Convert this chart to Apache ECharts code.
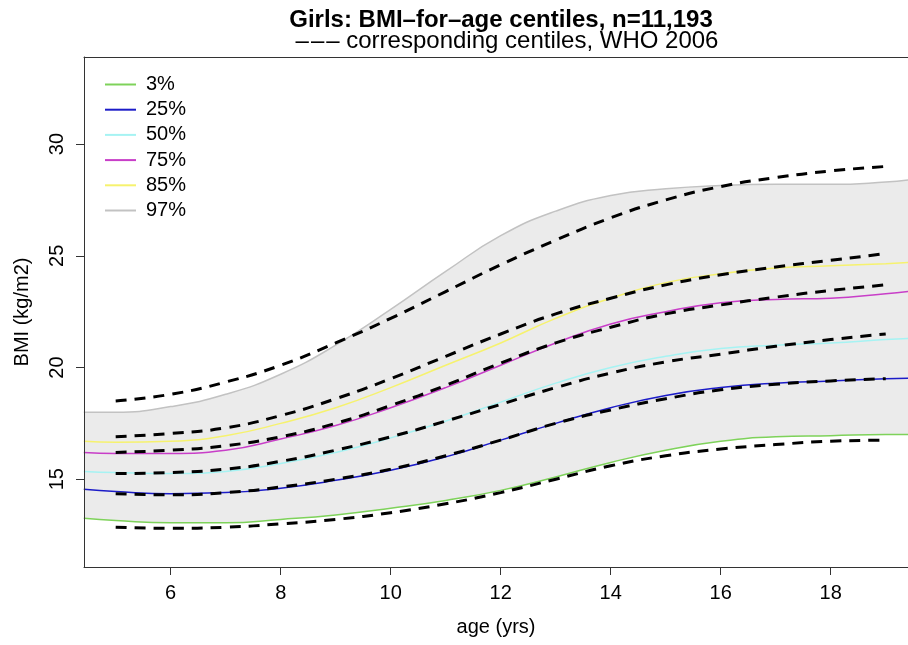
<!DOCTYPE html>
<html>
<head>
<meta charset="utf-8">
<script src="https://cdn.jsdelivr.net/npm/echarts@6/dist/echarts.min.js"></script>
<style>
html,body{margin:0;padding:0;background:#fff;}
#chart{width:908px;height:645px;}
</style>
</head>
<body>
<div id="chart"></div>
<script>
// ---- data ----
var ageStudy = [4.42, 5, 6, 7, 8, 9, 10, 11, 12, 13, 14, 15, 16, 17, 18, 19, 19.41];
var study3  = [13.25, 13.15, 13.05, 13.05, 13.2, 13.4, 13.7, 14.05, 14.5, 15.1, 15.75, 16.3, 16.7, 16.9, 16.95, 17.0, 17.0];
var study25 = [14.55, 14.45, 14.35, 14.4, 14.6, 14.95, 15.4, 16.0, 16.75, 17.5, 18.2, 18.75, 19.1, 19.3, 19.4, 19.5, 19.52];
var study50 = [15.35, 15.3, 15.25, 15.35, 15.7, 16.2, 16.85, 17.6, 18.45, 19.3, 20.0, 20.5, 20.85, 21.0, 21.1, 21.25, 21.3];
var study75 = [16.2, 16.15, 16.15, 16.3, 16.8, 17.4, 18.2, 19.1, 20.1, 21.1, 21.95, 22.5, 22.9, 23.05, 23.1, 23.3, 23.4];
var study85 = [16.7, 16.65, 16.7, 16.95, 17.5, 18.2, 19.1, 20.1, 21.1, 22.2, 23.1, 23.8, 24.2, 24.45, 24.55, 24.65, 24.7];
var study97 = [18.0, 18.0, 18.25, 18.8, 19.7, 21.0, 22.6, 24.3, 25.9, 27.0, 27.7, 28.0, 28.15, 28.2, 28.2, 28.3, 28.4];

var ageWHO = [5, 6, 7, 8, 9, 10, 11, 12, 13, 14, 15, 16, 17, 18, 19];
var who3  = [12.85, 12.8, 12.85, 13.0, 13.2, 13.5, 13.9, 14.4, 15.0, 15.6, 16.05, 16.35, 16.55, 16.7, 16.75];
var who25 = [14.35, 14.3, 14.4, 14.65, 15.0, 15.45, 16.05, 16.75, 17.5, 18.1, 18.6, 19.0, 19.25, 19.4, 19.5];
var who50 = [15.25, 15.3, 15.45, 15.8, 16.3, 16.9, 17.6, 18.35, 19.1, 19.75, 20.25, 20.6, 20.95, 21.25, 21.5];
var who75 = [16.2, 16.3, 16.5, 16.9, 17.5, 18.3, 19.2, 20.2, 21.1, 21.8, 22.4, 22.8, 23.15, 23.45, 23.7];
var who85 = [16.9, 17.05, 17.3, 17.85, 18.6, 19.5, 20.5, 21.5, 22.4, 23.1, 23.7, 24.15, 24.5, 24.8, 25.1];
var who97 = [18.5, 18.8, 19.35, 20.1, 21.1, 22.2, 23.4, 24.6, 25.7, 26.7, 27.5, 28.1, 28.5, 28.8, 29.0];

var centileNames = ['3%', '25%', '50%', '75%', '85%', '97%'];
var xTicks = [6, 8, 10, 12, 14, 16, 18];
var yTicks = [15, 20, 25, 30];

// ---- build ----
var studySets = [study3, study25, study50, study75, study85, study97];
var whoSets = [who3, who25, who50, who75, who85, who97];
var colors = ['#7ed25a', '#1c1cc8', '#a6f3f3', '#c83ec8', '#f6f26e', '#c2c2c2'];

function pairs(xs, ys) { return xs.map(function (x, i) { return [x, ys[i]]; }); }

var FONT = '"Liberation Sans", Arial, Helvetica, sans-serif';
var SM = 0.5;
var series = [];
// point-cloud impression: shaded band between the 3% and 97% study centiles
series.push({
  type: 'line', name: 'band97', data: pairs(ageStudy, study97), smooth: SM,
  symbol: 'none', lineStyle: { width: 0 }, areaStyle: { color: '#ebebeb', opacity: 1, origin: 'start' },
  z: 1, silent: true
});
series.push({
  type: 'line', name: 'band3', data: pairs(ageStudy, study3), smooth: SM,
  symbol: 'none', lineStyle: { width: 0 }, areaStyle: { color: '#ffffff', opacity: 1, origin: 'start' },
  z: 1.5, silent: true
});
studySets.forEach(function (arr, i) {
  series.push({
    type: 'line', name: centileNames[i], data: pairs(ageStudy, arr), smooth: SM,
    symbol: 'none', lineStyle: { color: colors[i], width: 1.5 }, itemStyle: { color: colors[i] }, z: 3
  });
});
whoSets.forEach(function (arr, i) {
  series.push({
    type: 'line', name: 'WHO ' + centileNames[i], data: pairs(ageWHO, arr), smooth: SM,
    symbol: 'none', lineStyle: { color: '#000', width: 3, type: [11, 8] }, z: 4
  });
});

var chart = echarts.init(document.getElementById('chart'), null, { renderer: 'canvas' });
chart.setOption({
  animation: false,
  backgroundColor: '#fff',
  textStyle: { fontFamily: FONT },
  title: [
    { text: 'Girls: BMI–for–age centiles, n=11,193', left: 496, top: 3, textAlign: 'center',
      textStyle: { fontFamily: FONT, fontSize: 24, fontWeight: 'bold', color: '#000' } },
    { text: '\u2013\u200A\u2013\u200A\u2013 corresponding centiles, WHO 2006', left: 502, top: 24, textAlign: 'center',
      textStyle: { fontFamily: FONT, fontSize: 24, fontWeight: 'normal', color: '#000' } }
  ],
  legend: {
    data: centileNames.map(function (n, i) { return { name: n, icon: 'rect', itemStyle: { color: colors[i] } }; }),
    orient: 'vertical', left: 100, top: 69.5, itemWidth: 31, itemHeight: 2, itemGap: 5.2,
    textStyle: { fontFamily: FONT, fontSize: 20, color: '#000', lineHeight: 20, padding: [0, 0, 0, 5] },
    selectedMode: false
  },
  grid: { left: 84, top: 57, right: 0, bottom: 78, containLabel: false },
  xAxis: [
    { type: 'value', min: 4.424, max: 19.405, position: 'bottom', z: 10,
      axisLine: { show: true, onZero: false, lineStyle: { color: '#333', width: 1 } },
      axisTick: { show: true, customValues: xTicks, length: 8, lineStyle: { color: '#333' } },
      axisLabel: { customValues: xTicks, margin: 16, fontSize: 20, color: '#000', fontFamily: FONT },
      splitLine: { show: false },
      name: 'age (yrs)', nameLocation: 'middle', nameGap: 50,
      nameTextStyle: { fontSize: 20, color: '#000', fontFamily: FONT } },
    { type: 'value', min: 4.424, max: 19.405, position: 'top', z: 10,
      axisLine: { show: true, onZero: false, lineStyle: { color: '#333', width: 1 } },
      axisTick: { show: false }, axisLabel: { show: false }, splitLine: { show: false } }
  ],
  yAxis: [
    { type: 'value', min: 11.07, max: 33.9, position: 'left', z: 10,
      axisLine: { show: true, onZero: false, lineStyle: { color: '#333', width: 1 } },
      axisTick: { show: true, customValues: yTicks, length: 8, lineStyle: { color: '#333' } },
      axisLabel: { customValues: yTicks, rotate: 90, margin: 17, fontSize: 20, color: '#000', fontFamily: FONT },
      splitLine: { show: false },
      name: 'BMI (kg/m2)', nameLocation: 'middle', nameGap: 52, nameRotate: 90,
      nameTextStyle: { fontSize: 20, color: '#000', fontFamily: FONT } }
  ],
  series: series
});
</script>
</body>
</html>
